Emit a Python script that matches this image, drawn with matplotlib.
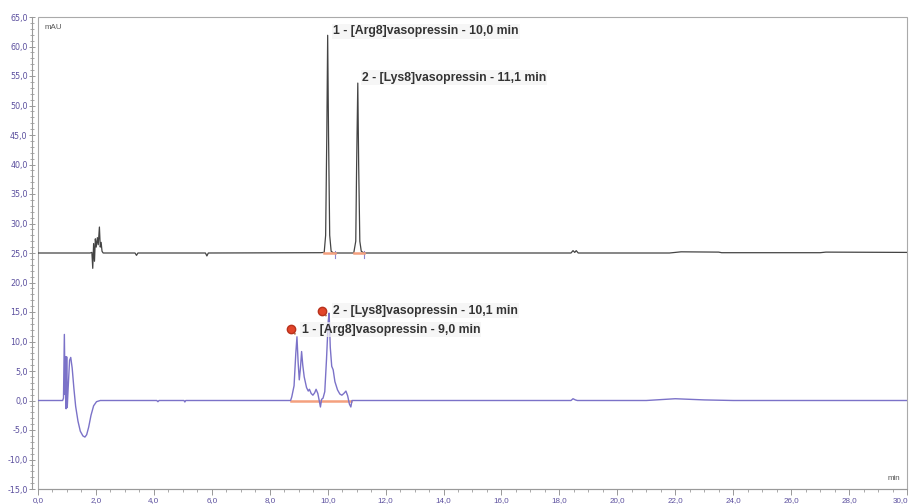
import numpy as np
import matplotlib
matplotlib.use('Agg')
import matplotlib.pyplot as plt
from matplotlib.ticker import MultipleLocator, FuncFormatter
from matplotlib.patches import Rectangle

# upper trace (mAU vs min), offset at 25
top_time = [0.0, 1.80, 1.86, 1.89, 1.92, 1.95, 1.98, 2.01, 2.05, 2.08, 2.12, 2.15, 2.18, 2.21, 2.25,
            3.35, 3.40, 3.45, 5.78, 5.83, 5.88, 9.75, 9.88, 9.93, 9.97, 10.00, 10.03, 10.07, 10.12, 10.20,
            10.90, 10.97, 11.00, 11.04, 11.07, 11.11, 11.16, 11.25, 18.40, 18.47, 18.53, 18.58, 18.65,
            21.8, 22.2, 23.5, 23.6, 27.0, 27.2, 30.0]
top_mau = [25.0, 25.0, 25.1, 22.4, 26.6, 23.6, 27.4, 26.0, 27.6, 26.4, 29.4, 26.0, 26.8, 25.3, 25.0,
           25.0, 24.6, 25.0, 25.0, 24.5, 25.0, 25.05, 25.1, 28.0, 45.0, 61.9, 45.0, 28.0, 25.3, 25.0,
           25.0, 27.0, 40.0, 53.8, 40.0, 27.0, 25.3, 25.0, 25.0, 25.4, 25.1, 25.4, 25.0,
           25.0, 25.2, 25.15, 25.05, 25.05, 25.15, 25.1]

# lower trace
bot_time = [0.0, 0.85, 0.88, 0.91, 0.935, 0.95, 0.97, 0.99, 1.01, 1.04, 1.09, 1.13, 1.18, 1.24, 1.30,
            1.38, 1.46, 1.55, 1.62, 1.68, 1.75, 1.83, 1.92, 2.02, 2.15, 4.10, 4.14, 4.18, 5.04, 5.07, 5.10,
            8.72, 8.76, 8.84, 8.90, 8.94, 8.98, 9.02, 9.06, 9.10, 9.14, 9.19, 9.27, 9.33, 9.37, 9.43,
            9.49, 9.55, 9.60, 9.66, 9.72, 9.75, 9.79, 9.84, 9.90, 9.96, 10.02, 10.05, 10.09, 10.14,
            10.19, 10.25, 10.34, 10.42, 10.49, 10.56, 10.63, 10.69, 10.75, 10.80, 10.84,
            18.40, 18.47, 18.55, 18.62, 21.0, 22.0, 23.0, 24.0, 30.0]
bot_mau = [0.0, 0.0, 0.4, 11.2, 1.0, 7.4, -1.4, 7.4, -1.2, 2.0, 6.8, 7.3, 5.5, 2.0, -1.0,
           -3.5, -5.2, -6.0, -6.2, -5.8, -4.5, -2.5, -0.9, -0.2, 0.0, 0.0, -0.2, 0.0, 0.0, -0.25, 0.0,
           0.0, 0.6, 2.5, 8.0, 10.8, 6.5, 3.5, 5.5, 8.3, 6.0, 4.0, 2.2, 1.6, 1.9, 1.2,
           0.9, 1.3, 1.9, 1.2, -0.3, -1.1, 0.2, 0.4, 1.5, 7.0, 13.5, 14.8, 9.0, 5.8,
           5.2, 3.2, 1.8, 1.1, 0.9, 1.2, 1.6, 0.8, -0.6, -1.1, 0.0,
           0.0, 0.3, 0.1, 0.0, 0.0, 0.3, 0.1, 0.0, 0.0]

# integration baselines
top_base = [(9.88, 10.26), (10.90, 11.26)]
bot_base = [(8.75, 9.75), (9.78, 10.80)]

# peak labels
top_labels = ["1 - [Arg8]vasopressin - 10,0 min", "2 - [Lys8]vasopressin - 11,1 min"]
top_lab_x = [10.18, 11.18]
top_lab_y = [62.6, 54.7]
bot_labels = ["1 - [Arg8]vasopressin - 9,0 min", "2 - [Lys8]vasopressin - 10,1 min"]
bot_lab_x = [9.10, 10.19]
bot_lab_y = [12.0, 15.2]
pin_x = [8.72, 9.79]
pin_y = [12.1, 15.2]

tick_col = '#5b4f9e'
xmax = 30

fig = plt.figure(figsize=(9.09, 5.04), dpi=100)
ax = fig.add_axes([38/909, 15/504, 869/909, 472/504])

ax.plot(top_time, top_mau, color='#444444', lw=0.9)
ax.plot(bot_time, bot_mau, color='#7b72c8', lw=1.0)

for a, b in top_base:
    ax.plot([a, b], [25.0, 25.0], color='#f4a07e', lw=1.8, zorder=3)
    ax.plot([b, b], [24.2, 25.4], color='#8f86d0', lw=0.8)
for a, b in bot_base:
    ax.plot([a, b], [0.0, 0.0], color='#f4a07e', lw=1.8, zorder=1)

for t, x, y in zip(top_labels + bot_labels, top_lab_x + bot_lab_x, top_lab_y + bot_lab_y):
    ax.text(x, y, t, fontsize=8.8, fontweight='bold', family='Liberation Sans', color='#333333',
            va='center', ha='left', bbox=dict(facecolor='#f3f3f3', edgecolor='none', alpha=0.7, pad=1))
ax.plot(pin_x, pin_y, 'o', color='#e2452b', ms=6, mec='#b8321c', zorder=5)
for x, y in zip(pin_x, pin_y):
    ax.plot([x, x + 0.15], [y, y - 0.8], color='#b07a5a', lw=1.2, zorder=4)

ax.set_xlim(0, xmax)
ax.set_ylim(-15, 65)
ax.xaxis.set_major_locator(MultipleLocator(2))
ax.xaxis.set_minor_locator(MultipleLocator(0.5))
ax.yaxis.set_major_locator(MultipleLocator(5))
ax.yaxis.set_minor_locator(MultipleLocator(1))
fmt = FuncFormatter(lambda v, p: f"{v:.1f}".replace('.', ','))
xfmt = FuncFormatter(lambda v, p: '' if v >= xmax else f"{v:.1f}".replace('.', ','))
ax.xaxis.set_major_formatter(xfmt)
ax.yaxis.set_major_formatter(fmt)
ax.tick_params(axis='both', which='major', labelsize=5.8, labelcolor=tick_col, color='#888888',
               length=4, width=0.6, pad=1.5)
ax.tick_params(axis='y', which='both', direction='inout')
ax.tick_params(axis='y', which='minor', length=2.5, width=0.5, color='#888888')
ax.tick_params(axis='x', which='minor', length=2.5, width=0.5, color='#888888')
for lab in ax.get_xticklabels() + ax.get_yticklabels():
    lab.set_family('Liberation Sans')
# last x label sits at the right edge, keep it inside the figure
ax.annotate(f"{xmax:.1f}".replace('.', ','), xy=(xmax, 0), xycoords=('data', 'axes fraction'),
            xytext=(1, -5.5), textcoords='offset points', ha='right', va='top',
            fontsize=5.8, family='Liberation Sans', color=tick_col)

for s in ax.spines.values():
    s.set_color('#999999')
    s.set_linewidth(0.8)
ax.spines['left'].set_position(('outward', 4))
ax.spines['top'].set_visible(False)
ax.spines['right'].set_visible(False)
ax.add_patch(Rectangle((0, 0), 1, 1, transform=ax.transAxes, fill=False, edgecolor='#aaaaaa',
                       lw=0.8, clip_on=False))

ax.text(0.008, 0.985, 'mAU', transform=ax.transAxes, fontsize=5.8, family='Liberation Sans',
        color='#555555', va='top', ha='left')
ax.text(0.992, 0.015, 'min', transform=ax.transAxes, fontsize=5.8, family='Liberation Sans',
        color='#555555', va='bottom', ha='right')

fig.savefig('out.png', dpi=100)
